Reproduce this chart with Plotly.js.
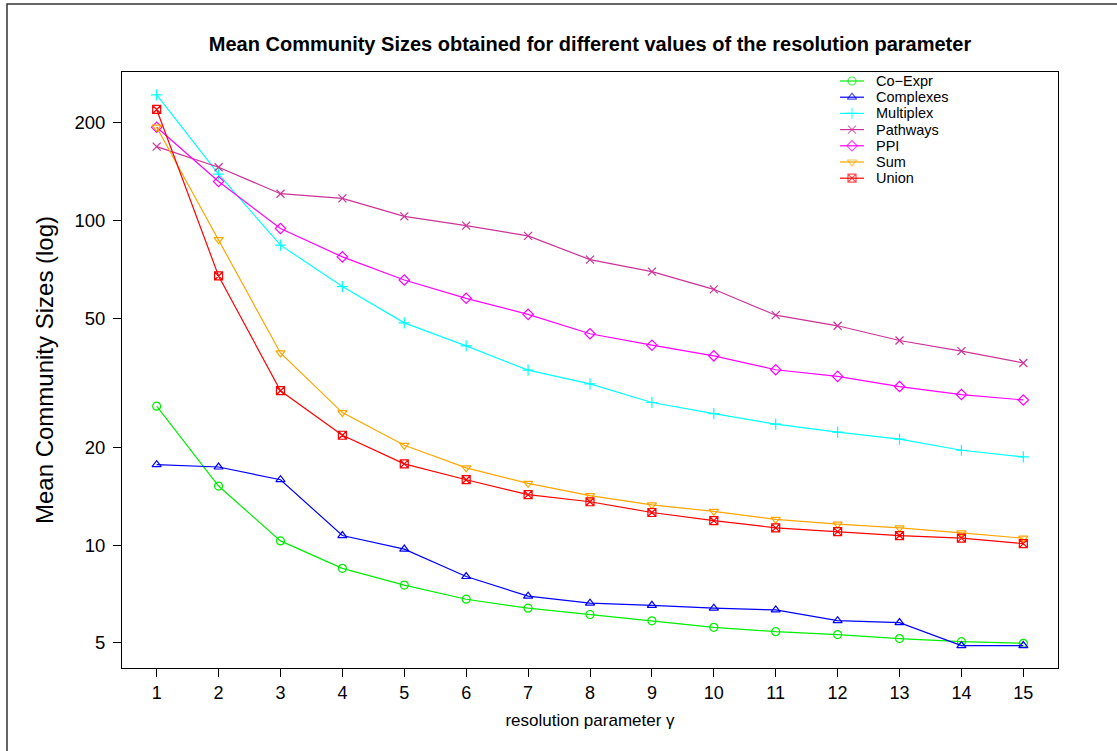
<!DOCTYPE html>
<html>
<head>
<meta charset="utf-8">
<script src="https://cdn.plot.ly/plotly-3.0.1.min.js"></script>
<style>html,body{margin:0;padding:0;background:#fff;}#chart{width:1117px;height:751px;}</style>
</head>
<body>
<div id="chart"></div>
<script>
// resolution parameter gamma
const gamma = [1,2,3,4,5,6,7,8,9,10,11,12,13,14,15];

const seriesNames = ["Co\u2212Expr","Complexes","Multiplex","Pathways","PPI","Sum","Union"];

const coExpr    = [26.8, 15.2, 10.3, 8.48, 7.53, 6.81, 6.39, 6.11, 5.84, 5.58, 5.41, 5.30, 5.15, 5.04, 4.98];
const complexes = [17.7, 17.4, 15.9, 10.7, 9.72, 8.00, 6.96, 6.62, 6.52, 6.39, 6.31, 5.85, 5.77, 4.90, 4.90];
const multiplex = [244, 139, 84.0, 62.6, 48.4, 41.1, 34.6, 31.4, 27.5, 25.4, 23.6, 22.3, 21.2, 19.6, 18.7];
const pathways  = [169, 146, 121, 117, 103, 96.5, 89.7, 75.8, 69.6, 61.4, 51.1, 47.4, 42.7, 39.6, 36.4];
const ppi       = [194, 132, 94.5, 77.3, 65.6, 57.6, 51.4, 44.8, 41.3, 38.3, 34.7, 33.1, 30.8, 29.1, 28.0];
const sumVals   = [194, 87.4, 39.1, 25.6, 20.3, 17.3, 15.5, 14.2, 13.3, 12.7, 12.0, 11.6, 11.3, 10.9, 10.5];
const unionVals = [220, 67.5, 29.9, 21.8, 17.8, 15.9, 14.3, 13.6, 12.6, 11.9, 11.3, 11.0, 10.7, 10.5, 10.1];

const yTickVals = [5, 10, 20, 50, 100, 200];
const yTickText = ["5", "10", "20", "50", "100", "200"];

const colors  = ["#00EE00", "#0000FF", "#00FFFF", "#CC3399", "#FF00FF", "#FFA500", "#FF0000"];
const symbols = ["circle-open", "triangle-up-open", "cross-thin-open", "x-thin-open", "diamond-open", "triangle-down-open", "square-x-open"];
const allVals = [coExpr, complexes, multiplex, pathways, ppi, sumVals, unionVals];

const font = "Liberation Sans, Arial, Helvetica, sans-serif";

// plot-area pixel geometry (used for the hand-built legend overlay)
const W = 1117, H = 751, L = 122, R = 1058, T = 72, B = 668;

const traces = allVals.map((vals, i) => ({
  x: gamma,
  y: vals,
  name: seriesNames[i],
  type: "scatter",
  mode: "lines+markers",
  showlegend: false,
  line: {color: colors[i], width: 1.2},
  marker: {symbol: symbols[i], size: 8, color: colors[i], line: {color: colors[i], width: 1.2}}
}));

// legend (R style, no box) drawn on an overlay axis measured in pixels
const legTop = 81, legStep = 16.2, legX0 = 840, legX1 = 864, legText = 875;
const annotations = [];
seriesNames.forEach((nm, i) => {
  const yy = legTop + i * legStep;
  traces.push({
    x: [legX0, (legX0 + legX1) / 2, legX1], y: [yy, yy, yy],
    xaxis: "x2", yaxis: "y2", type: "scatter", mode: "lines+markers",
    showlegend: false, hoverinfo: "skip",
    line: {color: colors[i], width: 1.2},
    marker: {symbol: symbols[i], size: [0, 8, 0], color: colors[i], line: {color: colors[i], width: 1.2}}
  });
  annotations.push({
    xref: "x2", yref: "y2", x: legText, y: yy, text: nm, showarrow: false,
    xanchor: "left", yanchor: "middle", borderpad: 0,
    font: {family: font, size: 14.5, color: "#000"}
  });
});

const layout = {
  width: W, height: H,
  margin: {l: L, r: W - R, t: T, b: H - B},
  paper_bgcolor: "#fff", plot_bgcolor: "#fff",
  font: {family: font, color: "#000"},
  showlegend: false,
  title: {
    text: "<b>Mean Community Sizes obtained for different values of the resolution parameter</b>",
    font: {family: font, size: 20, color: "#000"},
    x: 0.5, xanchor: "center", xref: "paper",
    y: 1 - 44/751, yanchor: "middle", yref: "container"
  },
  xaxis: {
    range: [0.44, 15.56],
    tickvals: gamma,
    ticks: "outside", ticklen: 8, tickwidth: 1, tickcolor: "#000",
    tickfont: {size: 18, family: font},
    showgrid: false, zeroline: false,
    showline: true, mirror: true, linecolor: "#000", linewidth: 1,
    title: {text: "resolution parameter \u03b3", font: {size: 17, family: font}, standoff: 12},
    automargin: false
  },
  yaxis: {
    type: "log",
    range: [Math.log10(4.18), Math.log10(287)],
    tickvals: yTickVals, ticktext: yTickText,
    ticks: "outside", ticklen: 8, tickwidth: 1, tickcolor: "#000",
    tickfont: {size: 18.5, family: font},
    ticklabelstandoff: 4,
    showgrid: false, zeroline: false,
    showline: true, mirror: true, linecolor: "#000", linewidth: 1,
    title: {text: "Mean Community Sizes (log)", font: {size: 24, family: font}, standoff: 14},
    automargin: false
  },
  xaxis2: {overlaying: "x", anchor: "y2", range: [L, R], visible: false, fixedrange: true},
  yaxis2: {overlaying: "y", anchor: "x2", range: [B, T], visible: false, fixedrange: true},
  annotations: annotations,
  shapes: [{
    type: "rect", xref: "paper", yref: "paper",
    x0: (7 - L) / (R - L), x1: 1.2, y0: -0.5, y1: 1 + (T - 4) / (B - T),
    line: {color: "#333", width: 1.5}, fillcolor: "rgba(0,0,0,0)", layer: "below"
  }]
};

Plotly.newPlot("chart", traces, layout, {displayModeBar: false, staticPlot: true});
</script>
</body>
</html>
